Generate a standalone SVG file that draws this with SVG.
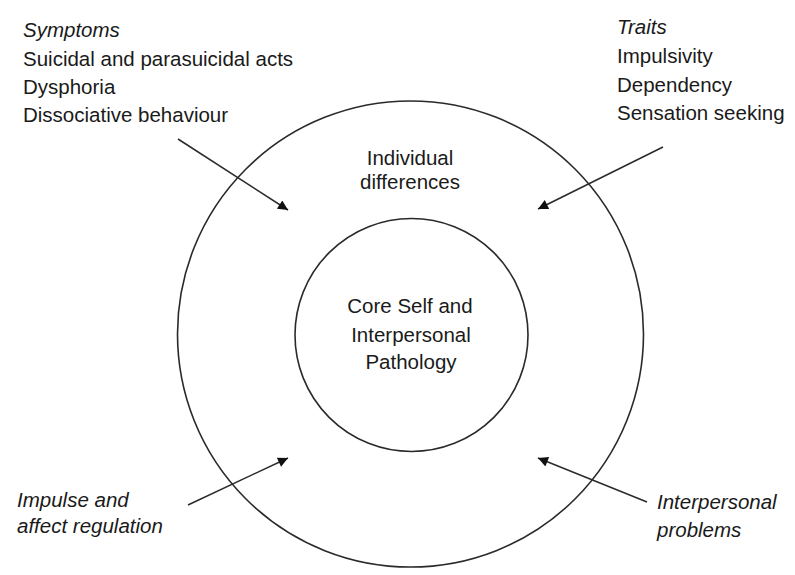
<svg xmlns="http://www.w3.org/2000/svg" width="795" height="575" viewBox="0 0 795 575">
<defs>
<style>
text{font-family:"Liberation Sans",Arial,sans-serif;font-size:20.5px;fill:#1a1a1a}
.it{font-style:italic}
.mid{text-anchor:middle}
.ring{fill:none;stroke:#2a2a2a;stroke-width:1.6}
.conn{fill:none;stroke:#2a2a2a;stroke-width:1.5}
</style>
<marker id="ah" viewBox="0 0 10 10" refX="10" refY="5" markerWidth="13" markerHeight="10" markerUnits="userSpaceOnUse" orient="auto">
<path d="M0,0 L10,5 L0,10 z" fill="#111"/>
</marker>
</defs>
<rect width="795" height="575" fill="#fff"/>
<g id="outer">
<circle class="ring" cx="410.5" cy="334" r="233"/>
<text class="mid" x="410" y="165">Individual</text>
<text class="mid" x="410" y="189">differences</text>
</g>
<g id="core">
<circle class="ring" cx="411.5" cy="335" r="116.5"/>
<text class="mid" x="410" y="313">Core Self and</text>
<text class="mid" x="411" y="342">Interpersonal</text>
<text class="mid" x="411" y="369">Pathology</text>
</g>
<g id="symptoms">
<text class="it" x="23" y="37">Symptoms</text>
<text x="23" y="66">Suicidal and parasuicidal acts</text>
<text x="23" y="94">Dysphoria</text>
<text x="23" y="122">Dissociative behaviour</text>
</g>
<g id="traits">
<text class="it" x="617" y="34">Traits</text>
<text x="617" y="63">Impulsivity</text>
<text x="617" y="92">Dependency</text>
<text x="617" y="120">Sensation seeking</text>
</g>
<g id="impulse">
<text class="it" x="17" y="507">Impulse and</text>
<text class="it" x="17" y="533">affect regulation</text>
</g>
<g id="interpersonal">
<text class="it" x="657" y="509">Interpersonal</text>
<text class="it" x="657" y="537">problems</text>
</g>
<g id="connectors">
<line class="conn" x1="178" y1="139" x2="288" y2="210" marker-end="url(#ah)"/>
<line class="conn" x1="663" y1="147" x2="538" y2="209" marker-end="url(#ah)"/>
<line class="conn" x1="188" y1="505" x2="288" y2="458" marker-end="url(#ah)"/>
<line class="conn" x1="647" y1="502" x2="538" y2="458" marker-end="url(#ah)"/>
</g>
</svg>
